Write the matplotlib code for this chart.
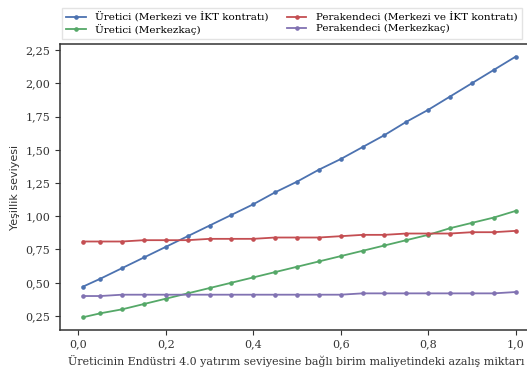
import matplotlib
matplotlib.use("Agg")
import matplotlib.pyplot as plt
from matplotlib.ticker import FuncFormatter

# verileri
x = [0.01, 0.05, 0.10, 0.15, 0.20, 0.25, 0.30, 0.35, 0.40, 0.45, 0.50,
     0.55, 0.60, 0.65, 0.70, 0.75, 0.80, 0.85, 0.90, 0.95, 1.00]
uretici_merkezi = [0.47, 0.53, 0.61, 0.69, 0.77, 0.85, 0.93, 1.01, 1.09, 1.18, 1.26,
                   1.35, 1.43, 1.52, 1.61, 1.71, 1.80, 1.90, 2.00, 2.10, 2.20]
perakendeci_merkezi = [0.81, 0.81, 0.81, 0.82, 0.82, 0.82, 0.83, 0.83, 0.83, 0.84, 0.84,
                       0.84, 0.85, 0.86, 0.86, 0.87, 0.87, 0.87, 0.88, 0.88, 0.89]
uretici_merkezkac = [0.24, 0.27, 0.30, 0.34, 0.38, 0.42, 0.46, 0.50, 0.54, 0.58, 0.62,
                     0.66, 0.70, 0.74, 0.78, 0.82, 0.86, 0.91, 0.95, 0.99, 1.04]
perakendeci_merkezkac = [0.40, 0.40, 0.41, 0.41, 0.41, 0.41, 0.41, 0.41, 0.41, 0.41, 0.41,
                         0.41, 0.41, 0.42, 0.42, 0.42, 0.42, 0.42, 0.42, 0.42, 0.43]

xticks = [0.0, 0.2, 0.4, 0.6, 0.8, 1.0]
yticks = [0.25, 0.50, 0.75, 1.00, 1.25, 1.50, 1.75, 2.00, 2.25]

fig = plt.figure(figsize=(5.27, 3.67), dpi=100)
ax = fig.add_axes([0.114, 0.101, 0.895, 0.779])

ax.plot(x, uretici_merkezi, marker="o", ms=2.3, lw=1.3, color="#4C72B0",
        label="Üretici (Merkezi ve İKT kontratı)")
ax.plot(x, uretici_merkezkac, marker="o", ms=2.3, lw=1.3, color="#55A868",
        label="Üretici (Merkezkaç)")
ax.plot(x, perakendeci_merkezi, marker="o", ms=2.3, lw=1.3, color="#C44E52",
        label="Perakendeci (Merkezi ve İKT kontratı)")
ax.plot(x, perakendeci_merkezkac, marker="o", ms=2.3, lw=1.3, color="#8172B2",
        label="Perakendeci (Merkezkaç)")

ax.set_xlim(-0.042, 1.037)
ax.set_ylim(0.145, 2.295)
ax.set_xticks(xticks)
ax.set_yticks(yticks)
virgul_x = FuncFormatter(lambda v, p: f"{v:.1f}".replace(".", ","))
virgul_y = FuncFormatter(lambda v, p: f"{v:.2f}".replace(".", ","))
ax.xaxis.set_major_formatter(virgul_x)
ax.yaxis.set_major_formatter(virgul_y)
for lbl in ax.get_xticklabels() + ax.get_yticklabels():
    lbl.set_family("DejaVu Serif")
    lbl.set_fontsize(8)
    lbl.set_color("#333333")
ax.tick_params(direction="out", length=3.5, width=0.8, color="#333333")
for s in ax.spines.values():
    s.set_color("#333333")
    s.set_linewidth(1.1)

ax.set_xlabel("Üreticinin Endüstri 4.0 yatırım seviyesine bağlı birim maliyetindeki azalış miktarı",
              family="DejaVu Serif", fontsize=7.9, color="#333333", labelpad=4)
ax.set_ylabel("Yeşillik seviyesi", family="DejaVu Sans", fontsize=8, color="#333333", labelpad=4)

fig.legend(loc="upper left", bbox_to_anchor=(0.108, 0.992), ncol=2,
           prop={"family": "DejaVu Serif", "size": 7.5}, frameon=True,
           handlelength=1.9, handletextpad=0.9, columnspacing=1.7, labelspacing=0.12,
           borderpad=0.4, edgecolor="#dddddd", fancybox=False)

fig.savefig("out.png", dpi=100)
